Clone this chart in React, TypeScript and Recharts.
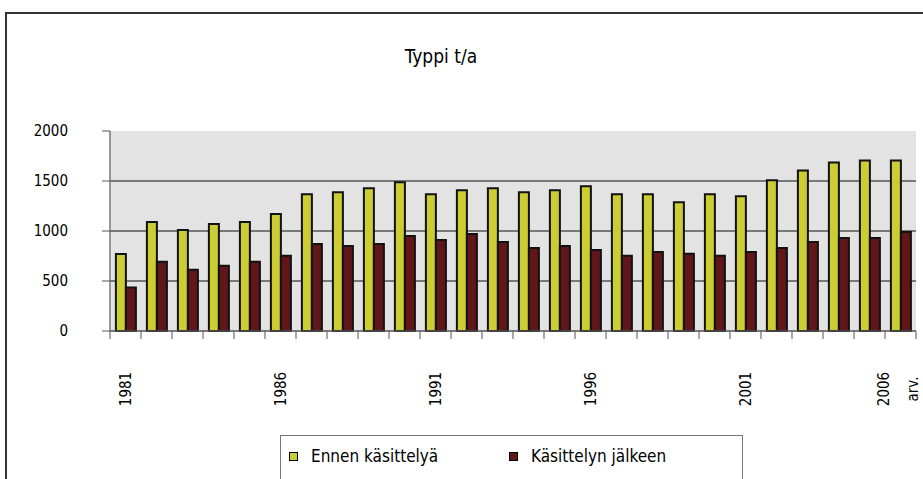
import React from 'react';
import { BarChart, Bar, XAxis, YAxis, CartesianGrid } from 'recharts';

const years = [
  '1981', '1982', '1983', '1984', '1985', '1986', '1987', '1988', '1989', '1990',
  '1991', '1992', '1993', '1994', '1995', '1996', '1997', '1998', '1999', '2000',
  '2001', '2002', '2003', '2004', '2005', '2006 arv.'
];

const ennen = [
  771, 1089, 1010, 1070, 1089, 1169, 1368, 1387, 1427, 1487,
  1368, 1407, 1427, 1387, 1407, 1447, 1368, 1368, 1288, 1368,
  1348, 1507, 1606, 1685, 1705, 1705
];

const jalkeen = [
  434, 692, 613, 652, 692, 752, 871, 851, 871, 950,
  911, 970, 891, 831, 851, 811, 752, 791, 772, 752,
  791, 831, 891, 930, 930, 990
];

const yTicks = [0, 500, 1000, 1500, 2000];

const FONT = '"DejaVu Sans Condensed", "DejaVu Sans", sans-serif';
const STRETCH = 'condensed';

const data = years.map((year, i) => ({
  year,
  ennen: ennen[i],
  jalkeen: jalkeen[i]
}));

// category axis: boundary tick marks + rotated label every 5th year
const YearTick = (props: any) => {
  const { x, y, payload, index } = props;
  const half = payload && payload.offset ? payload.offset : 15.5;
  const showLabel = index % 5 === 0;
  const parts = String(payload.value).split(' ');
  const cy = y + 58;
  // second line of the last label ("arv.") sits just inside the right edge
  const offsets = parts.length > 1 ? [-17, 12] : [0];
  return (
    <g>
      <line x1={x - half} x2={x - half} y1={y} y2={y + 8} stroke="#555" strokeWidth={1} />
      {index === years.length - 1 && (
        <line x1={x + half} x2={x + half} y1={y} y2={y + 8} stroke="#555" strokeWidth={1} />
      )}
      {showLabel &&
        parts.map((p, k) => {
          const tx = x + offsets[k];
          return (
            <text
              key={k}
              x={tx}
              y={cy}
              transform={`rotate(-90, ${tx}, ${cy})`}
              textAnchor="middle"
              dominantBaseline="central"
              fontSize={15}
              fontFamily={FONT}
              style={{ fontStretch: STRETCH }}
              fill="#000"
            >
              {p}
            </text>
          );
        })}
    </g>
  );
};

const LegendSwatch = ({ color }: { color: string }) => (
  <span
    style={{
      display: 'inline-block',
      width: 7,
      height: 7,
      background: color,
      border: '1.5px solid #000',
      marginRight: 13,
      verticalAlign: 'middle'
    }}
  />
);

const App: React.FC = () => {
  return (
    <div
      style={{
        position: 'absolute',
        left: 0,
        top: 0,
        width: 923,
        height: 479,
        overflow: 'hidden',
        background: '#fff',
        fontFamily: FONT,
        fontStretch: STRETCH
      }}
    >
      {/* chart frame */}
      <div
        style={{
          position: 'absolute',
          left: 5,
          top: 12,
          width: 940,
          height: 500,
          border: '2px solid #333',
          boxSizing: 'border-box'
        }}
      />

      <div
        style={{
          position: 'absolute',
          left: 341,
          top: 43,
          width: 200,
          textAlign: 'center',
          fontSize: 19,
          lineHeight: '26px',
          color: '#000'
        }}
      >
        Typpi t/a
      </div>

      <div style={{ position: 'absolute', left: 0, top: 0 }}>
        <BarChart
          width={923}
          height={479}
          data={data}
          margin={{ top: 131, right: 7, bottom: 0, left: 0 }}
          barCategoryGap="19%"
          barGap={0}
        >
          <CartesianGrid
            horizontal={true}
            vertical={false}
            horizontalValues={[500, 1000, 1500]}
            fill="#e3e3e3"
            stroke="#555"
            strokeWidth={1.3}
          />
          <XAxis
            dataKey="year"
            height={148}
            interval={0}
            tickSize={0}
            tickMargin={0}
            axisLine={{ stroke: '#555', strokeWidth: 1.3 }}
            tickLine={false}
            tick={<YearTick />}
          />
          <YAxis
            width={110}
            domain={[0, 2000]}
            ticks={yTicks}
            interval={0}
            tickSize={8}
            tickMargin={34}
            axisLine={{ stroke: '#666', strokeWidth: 1.3 }}
            tickLine={{ stroke: '#555', strokeWidth: 1 }}
            tick={{ fontSize: 15, fill: '#000', fontFamily: FONT, style: { fontStretch: STRETCH } }}
          />
          <Bar dataKey="ennen" fill="#cccc33" stroke="#111" strokeWidth={2} isAnimationActive={false} />
          <Bar dataKey="jalkeen" fill="#611619" stroke="#111" strokeWidth={2} isAnimationActive={false} />
        </BarChart>
      </div>

      {/* legend */}
      <div
        style={{
          position: 'absolute',
          left: 280,
          top: 435,
          width: 463,
          height: 60,
          border: '1px solid #777',
          boxSizing: 'border-box',
          fontSize: 17,
          color: '#000'
        }}
      >
        <div style={{ position: 'absolute', left: 8, top: 9, whiteSpace: 'nowrap' }}>
          <LegendSwatch color="#cccc33" />
          <span style={{ verticalAlign: 'middle' }}>Ennen käsittelyä</span>
        </div>
        <div style={{ position: 'absolute', left: 228, top: 9, whiteSpace: 'nowrap' }}>
          <LegendSwatch color="#611619" />
          <span style={{ verticalAlign: 'middle' }}>Käsittelyn jälkeen</span>
        </div>
      </div>
    </div>
  );
};

export default App;
